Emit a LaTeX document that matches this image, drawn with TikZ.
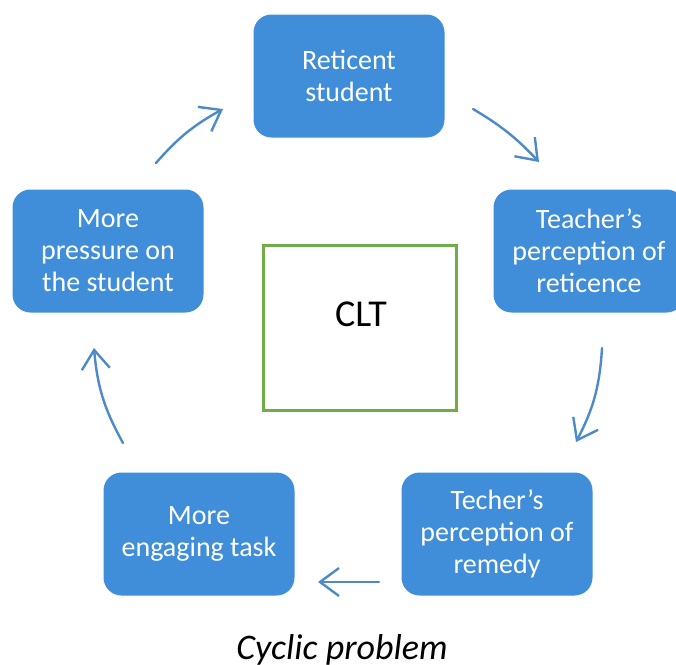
\documentclass[tikz,border=0pt]{standalone}
\usepackage{fontspec}
\setmainfont{Carlito}
\usetikzlibrary{arrows.meta}
\definecolor{boxblue}{RGB}{64,142,218}
\definecolor{arrowblue}{RGB}{78,138,200}
\definecolor{cltgreen}{RGB}{112,173,71}
\tikzset{
  stage/.style={rectangle, rounded corners=18pt, fill=boxblue, text=white,
    minimum width=191pt, minimum height=123pt, inner sep=2pt, align=center,
    font=\fontsize{28}{32}\selectfont},
  cycle arrow/.style={draw=arrowblue, line width=2.4pt, line cap=round,
    -{Straight Barb[length=19pt,width=28pt,line width=2.4pt]}},
  core/.style={rectangle, draw=cltgreen, line width=2.6pt, fill=white,
    minimum width=193pt, minimum height=165pt}
}
\begin{document}
\begin{tikzpicture}[x=1pt,y=-1pt]
  \useasboundingbox (0,0) rectangle (676,664);
  \fill[white] (0,0) rectangle (676,664);

  % stages of the cycle
  \node[stage] (reticent) at (349,76) {Reticent\\student};
  \node[stage] (perceive) at (589,251) {Teacher’s\\perception of\\reticence};
  \node[stage] (remedy)   at (497,534) {Techer’s\\perception of\\remedy};
  \node[stage] (engage)   at (199,534) {More\\engaging task};
  \node[stage] (pressure) at (108,251) {More\\pressure on\\the student};

  % central theory box
  \node[core] (clt) at (360,328) {};
  \node[font=\fontsize{38}{44}\selectfont] (cltlabel) at (361,314) {CLT};

  % arrow end points between the stages
  \coordinate (p1) at (156,163);  \coordinate (q1) at (223,109);
  \coordinate (p2) at (473,109);  \coordinate (q2) at (539,162);
  \coordinate (p3) at (602,348);  \coordinate (q3) at (576,442);
  \coordinate (p4) at (379,582);  \coordinate (q4) at (318,582);
  \coordinate (p5) at (123,443);  \coordinate (q5) at (94,348);

  \draw[cycle arrow] (p1) to[bend left=10] (q1);
  \draw[cycle arrow] (p2) to[bend left=8] (q2);
  \draw[cycle arrow] (p3) to[bend left=12] (q3);
  \draw[cycle arrow] (p4) -- (q4);
  \draw[cycle arrow] (p5) to[bend left=12] (q5);

  \node[font=\fontsize{36}{40}\selectfont\itshape, anchor=base] (caption) at (342,659) {Cyclic problem};
\end{tikzpicture}
\end{document}
